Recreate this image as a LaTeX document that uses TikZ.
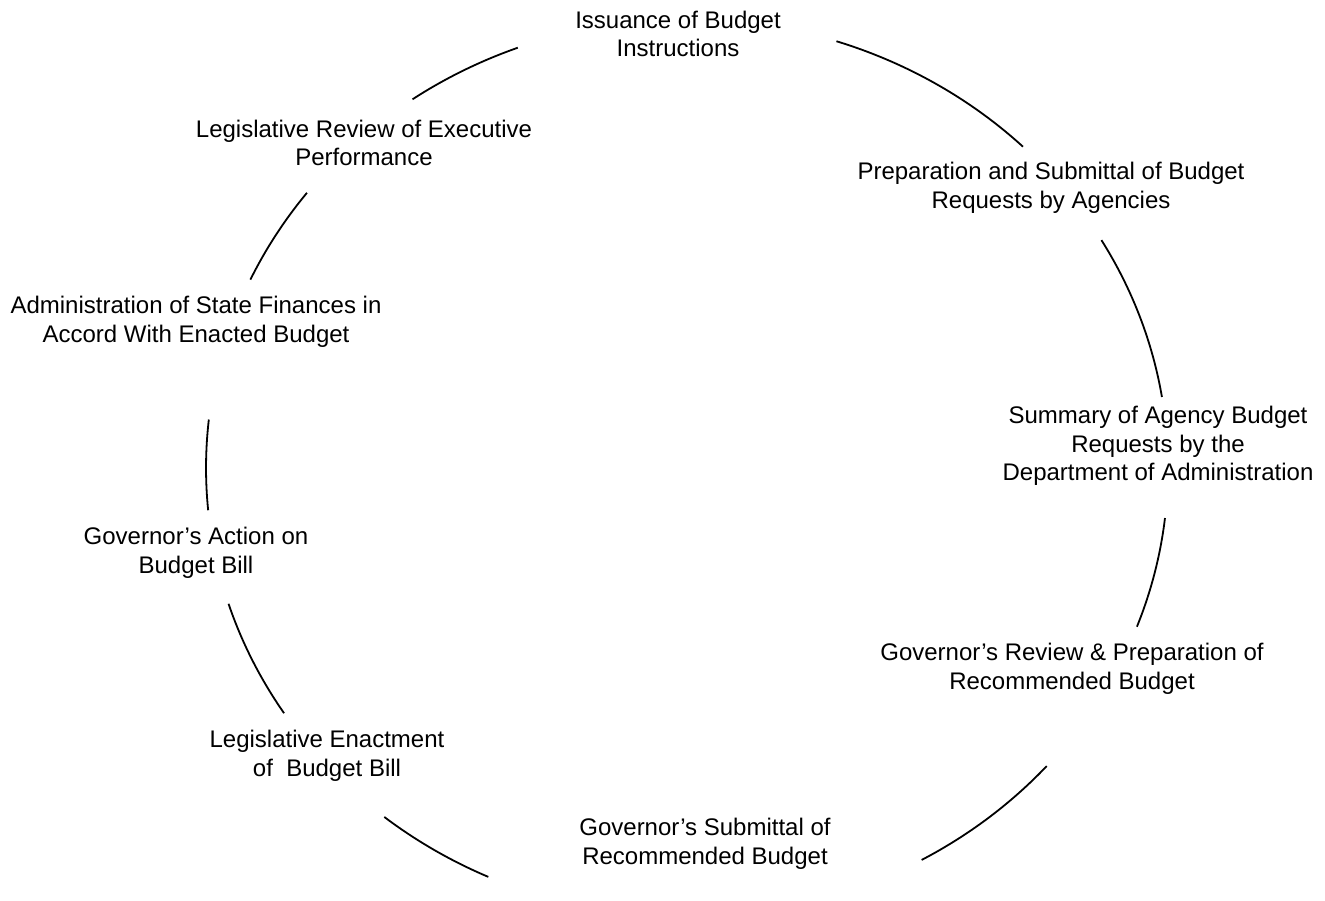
\documentclass[tikz,border=0pt]{standalone}
\usepackage{fontspec}
\setmainfont{Liberation Sans}
\usetikzlibrary{calc}
\begin{document}
\begin{tikzpicture}[x=1pt,y=1pt,
  lbl/.style={align=center,inner sep=0pt,font=\fontsize{24}{28.5}\selectfont},
  cyc/.style={line width=1.8pt,line cap=butt}]
\useasboundingbox (0,0) rectangle (1325,-900);
\coordinate (c) at (687,-468);
% labels
\node[lbl] (n1) at (678,-34) {Issuance of Budget\\Instructions};
\node[lbl] (n2) at (1051,-188) {Preparation and Submittal of Budget\\Requests by Agencies};
\node[lbl] (n3) at (1158,-446) {Summary of Agency Budget\\Requests by the\\Department of Administration};
\node[lbl] (n4) at (1072,-669) {Governor’s Review \& Preparation of\\Recommended Budget};
\node[lbl] (n5) at (705,-844) {Governor’s Submittal of\\Recommended Budget};
\node[lbl] (n6) at (327,-756) {Legislative Enactment\\of~ Budget Bill};
\node[lbl] (n7) at (196,-553) {Governor’s Action on\\Budget Bill};
\node[lbl] (n8) at (196,-322) {Administration of State Finances in\\Accord With Enacted Budget};
\node[lbl] (n9) at (364,-143) {Legislative Review of Executive\\Performance};
% arcs of the cycle
\foreach \nm/\s/\e in {a9/124.8/110.6, a1/71.9/45.7, a2/30.5/9.1, a3/-6.4/-20.7,
  a4/-41.6/-60.8, a5/-114.4/-129.0, a6/-146.9/-162.4, a7/-174.6/-186.2, a8/155.2/142.2}{
  \coordinate (\nm) at ($(c)+(\s:481pt and 449pt)$);
  \draw[cyc] (\nm) arc[start angle=\s, end angle=\e, x radius=481pt, y radius=449pt];
}
\end{tikzpicture}
\end{document}
